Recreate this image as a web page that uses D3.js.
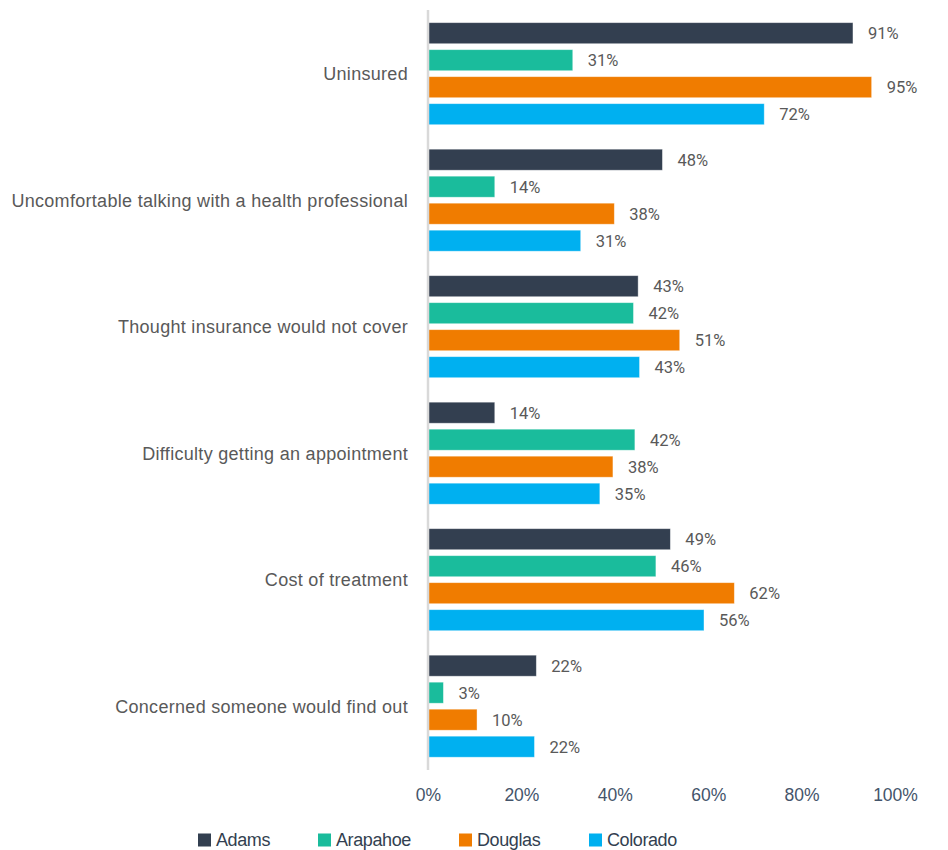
<!DOCTYPE html>
<html>
<head>
<meta charset="utf-8">
<script src="https://cdn.jsdelivr.net/npm/d3@7"></script>
<style>
  html, body { margin: 0; padding: 0; background: #fff; }
  svg { display: block; }
</style>
</head>
<body>
<svg id="chart" width="948" height="850"></svg>
<script>
// ---- data ----
const categories = [
  "Uninsured",
  "Uncomfortable talking with a health professional",
  "Thought insurance would not cover",
  "Difficulty getting an appointment",
  "Cost of treatment",
  "Concerned someone would find out"
];
const seriesNames = ["Adams", "Arapahoe", "Douglas", "Colorado"];
const seriesColors = ["#333F50", "#1ABC9C", "#F07C00", "#00B0F0"];

// bar lengths as drawn (percent)
const adamsValues    = [91, 50.2, 45.0, 14.3, 51.9, 23.2];
const arapahoeValues = [31, 14.3, 44.0, 44.3, 48.8, 3.3];
const douglasValues  = [95, 39.9, 53.9, 39.6, 65.6, 10.5];
const coloradoValues = [72, 32.7, 45.3, 36.8, 59.1, 22.8];

// data labels as printed (percent)
const adamsLabels    = [91, 48, 43, 14, 49, 22];
const arapahoeLabels = [31, 14, 42, 42, 46, 3];
const douglasLabels  = [95, 38, 51, 38, 62, 10];
const coloradoLabels = [72, 31, 43, 35, 56, 22];

const xTicks = [0, 20, 40, 60, 80, 100];

// ---- build ----
const allValues = [adamsValues, arapahoeValues, douglasValues, coloradoValues];
const allLabels = [adamsLabels, arapahoeLabels, douglasLabels, coloradoLabels];
const rows = [];
categories.forEach((c, ci) => {
  seriesNames.forEach((s, si) => {
    rows.push({ cat: c, series: s, value: allValues[si][ci], label: allLabels[si][ci], color: seriesColors[si] });
  });
});

const svg = d3.select("#chart");

const x = d3.scaleLinear().domain([0, 100]).range([428, 895]);
const y0 = d3.scaleBand().domain(categories).range([10, 769]).padding(0);
const y1 = d3.scaleBand().domain(seriesNames).range([9.7, 117.7]).paddingInner(0.22).paddingOuter(0.11);

const catFont = "'Liberation Sans Narrow', 'Arial Narrow', 'Liberation Sans', sans-serif";

// bars
svg.append("g").selectAll("rect").data(rows).join("rect")
  .attr("x", x(0))
  .attr("y", d => y0(d.cat) + y1(d.series))
  .attr("width", d => x(d.value) - x(0))
  .attr("height", y1.bandwidth())
  .attr("fill", d => d.color)
  .attr("stroke", "rgba(255,255,255,0.5)")
  .attr("stroke-width", 0.8);

// value labels
svg.append("g").selectAll("text").data(rows).join("text")
  .attr("x", d => x(d.value) + 15)
  .attr("y", d => y0(d.cat) + y1(d.series) + y1.bandwidth() / 2)
  .attr("dy", "0.36em")
  .attr("font-family", "Roboto, sans-serif")
  .attr("font-size", 16.5)
  .attr("fill", "#595959")
  .text(d => d.label + "%");

// vertical axis line
svg.append("line")
  .attr("x1", x(0)).attr("x2", x(0))
  .attr("y1", 10).attr("y2", 770)
  .attr("stroke", "#D9D9D9").attr("stroke-width", 2.5);

// category labels
svg.append("g").selectAll("text").data(categories).join("text")
  .attr("x", 408)
  .attr("y", d => y0(d) + 9.7 + 54)
  .attr("dy", "0.36em")
  .attr("text-anchor", "end")
  .attr("font-family", catFont)
  .attr("font-size", 18)
  .attr("letter-spacing", 0.3)
  .attr("fill", "#595959")
  .text(d => d);

// x axis tick labels
const xAxis = d3.axisBottom(x).tickValues(xTicks).tickFormat(d => d + "%").tickSize(0).tickPadding(0);
const gx = svg.append("g").attr("transform", "translate(0,795)").call(xAxis);
gx.select(".domain").remove();
gx.selectAll("text")
  .attr("dy", "0.36em")
  .attr("y", 0)
  .attr("font-family", catFont)
  .attr("font-size", 17.5)
  .attr("fill", "#44546A");

// legend
const legendX = [198, 318, 459, 589];
const lg = svg.append("g").selectAll("g").data(seriesNames).join("g")
  .attr("transform", (d, i) => `translate(${legendX[i]},840)`);
lg.append("rect").attr("x", 0).attr("y", -6.5).attr("width", 13).attr("height", 13)
  .attr("fill", (d, i) => seriesColors[i]);
lg.append("text").attr("x", 18).attr("y", 0).attr("dy", "0.36em")
  .attr("font-family", catFont).attr("font-size", 18).attr("letter-spacing", -0.4)
  .attr("fill", "#333F50")
  .text(d => d);
</script>
</body>
</html>
